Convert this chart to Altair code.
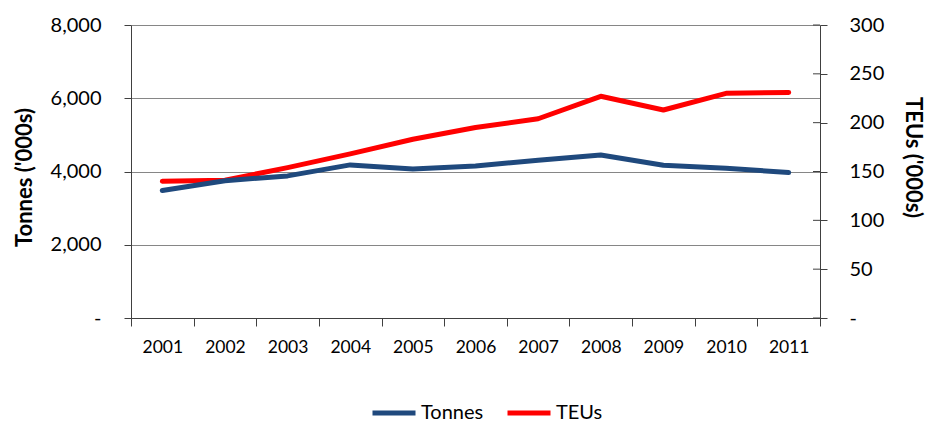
import altair as alt
import pandas as pd

# Annual throughput, 2001-2011
years = ["2001", "2002", "2003", "2004", "2005", "2006", "2007", "2008", "2009", "2010", "2011"]
tonnes = [3480, 3750, 3880, 4180, 4070, 4150, 4310, 4450, 4170, 4090, 3970]   # '000s
teus = [140, 141, 154, 168, 183, 195, 204, 227, 213, 230, 231]                  # '000s
series_names = ["Tonnes", "TEUs"]

# Axis tick values
tonnes_ticks = [0, 2000, 4000, 6000, 8000]
teu_ticks = [0, 50, 100, 150, 200, 250, 300]

BLUE = "#1F497D"
RED = "#FF0000"
AXIS_GREY = "#404040"
GRID_GREY = "#868686"
FONT = "Lato"

df = pd.DataFrame({
    "year": years * 2,
    "series": [series_names[0]] * len(years) + [series_names[1]] * len(years),
    "value": tonnes + teus,
})
ticks_df = pd.DataFrame({"v": teu_ticks})

label_expr = "datum.value == 0 ? '-' : format(datum.value, ',')"

x_enc = alt.X(
    "year:O",
    sort=years,
    scale=alt.Scale(type="band", paddingInner=0, paddingOuter=0),
    bandPosition=0.5,
    axis=alt.Axis(
        title=None, labelAngle=0, tickBand="extent", tickSize=8,
        labelPadding=12, labelFontSize=17.5, labelFont=FONT, labelColor="black",
        domainColor=AXIS_GREY, tickColor=AXIS_GREY, grid=False,
    ),
)

color_enc = alt.Color(
    "series:N",
    scale=alt.Scale(domain=series_names, range=[BLUE, RED]),
    legend=alt.Legend(
        title=None, orient="none", direction="horizontal",
        legendX=234, legendY=359, padding=5,
        symbolType="stroke", symbolSize=1849, symbolStrokeWidth=5,
        labelFont=FONT, labelFontSize=20, labelColor="black",
        labelOffset=3, columnPadding=13,
    ),
)

base = alt.Chart(df)

tonnes_line = base.transform_filter(alt.datum.series == "Tonnes").mark_line(
    strokeWidth=5, strokeCap="round", strokeJoin="round"
).encode(
    x=x_enc,
    y=alt.Y(
        "value:Q",
        scale=alt.Scale(domain=[0, 8000], nice=False),
        axis=alt.Axis(
            orient="left", values=tonnes_ticks, labelExpr=label_expr,
            title="Tonnes ('000s)", titleFont=FONT, titleFontSize=22,
            titleFontWeight="bold", titleColor="black", titleX=-95, titleY=152,
            labelFont=FONT, labelFontSize=20, labelColor="black", labelPadding=23,
            tickSize=7, tickColor=AXIS_GREY, domainColor=AXIS_GREY,
            grid=True, gridColor=GRID_GREY, gridWidth=1,
        ),
    ),
    color=color_enc,
)

teu_line = base.transform_filter(alt.datum.series == "TEUs").mark_line(
    strokeWidth=5, strokeCap="round", strokeJoin="round"
).encode(
    x=x_enc,
    y=alt.Y(
        "value:Q",
        scale=alt.Scale(domain=[0, 300], nice=False),
        axis=alt.Axis(
            orient="right", values=teu_ticks, labelExpr=label_expr,
            title="TEUs ('000s)", titleFont=FONT, titleFontSize=22,
            titleFontWeight="bold", titleColor="black", titleX=80, titleY=132,
            labelFont=FONT, labelFontSize=20, labelColor="black", labelPadding=22,
            tickSize=7, tickColor=AXIS_GREY, domainColor=AXIS_GREY, grid=False,
        ),
    ),
    color=color_enc,
)

# inner halves of the right-axis tick marks
inner_ticks = alt.Chart(ticks_df).mark_rule(color=AXIS_GREY, strokeWidth=1).encode(
    x=alt.value(682), x2=alt.value(689),
    y=alt.Y("v:Q", scale=alt.Scale(domain=[0, 300], nice=False), axis=None),
)

chart = alt.layer(teu_line, tonnes_line, inner_ticks).resolve_scale(
    y="independent"
).properties(
    width=689, height=293,
    autosize=alt.AutoSizeParams(type="none"),
    padding={"left": 131, "top": 25, "right": 119, "bottom": 105},
    background="white",
).configure_view(strokeWidth=0)

chart.save("out.html", embed_options={"renderer": "svg", "actions": False})
